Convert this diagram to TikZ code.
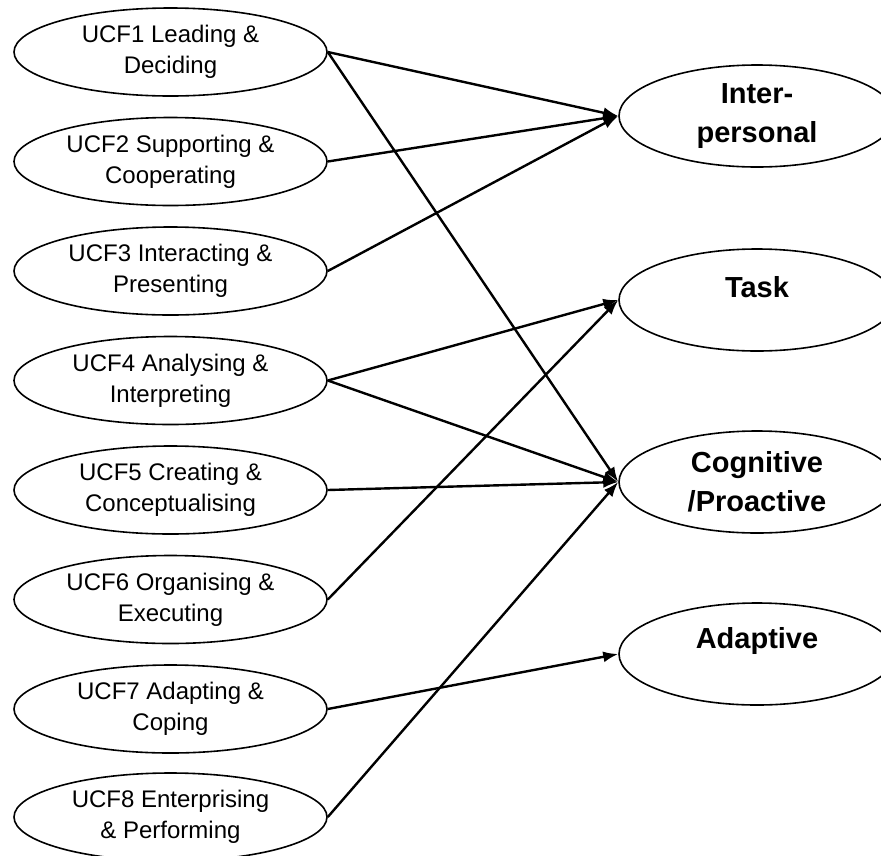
\documentclass[tikz,border=0pt]{standalone}
\usepackage{fontspec}
\setmainfont{Liberation Sans}
\usetikzlibrary{shapes.geometric,arrows.meta}
\begin{document}
\begin{tikzpicture}[x=1pt,y=-1pt,
 lbox/.style={draw,ellipse,line width=1.6pt,minimum width=313pt,minimum height=88pt,inner sep=0pt,inner ysep=-4pt,align=center,font=\fontsize{24}{31}\selectfont},
 rbox/.style={draw,ellipse,line width=1.6pt,minimum width=276pt,minimum height=102pt,inner sep=0pt,inner ysep=-10pt,align=center,font=\fontsize{29}{39}\selectfont\bfseries},
 rlab/.style={font=\fontsize{29}{39}\selectfont\bfseries,yshift=13pt},
 link/.style={line width=2.4pt,-{Latex[length=15pt,width=11pt]}}]
\useasboundingbox (0,0) rectangle (881,855);
\begin{scope}
\clip (0,0) rectangle (881,855);
\node[lbox] (u1) at (170.5,52) {UCF1 Leading \&\\Deciding};
\node[lbox] (u2) at (170.5,161.5) {UCF2 Supporting \&\\Cooperating};
\node[lbox] (u3) at (170.5,271) {UCF3 Interacting \&\\Presenting};
\node[lbox] (u4) at (170.5,380.5) {UCF4 Analysing \&\\Interpreting};
\node[lbox] (u5) at (170.5,490) {UCF5 Creating \&\\Conceptualising};
\node[lbox] (u6) at (170.5,599.5) {UCF6 Organising \&\\Executing};
\node[lbox] (u7) at (170.5,709) {UCF7 Adapting \&\\Coping};
\node[lbox] (u8) at (170.5,817) {UCF8 Enterprising\\\& Performing};
\node[rbox] (ip) at (757,116) {Inter-\\personal};
\node[rbox,label={[rlab]center:Task}] (ta) at (757,300) {};
\node[rbox] (co) at (757,482) {Cognitive\\/Proactive};
\node[rbox,label={[rlab]center:Adaptive}] (ad) at (757,654) {};
\end{scope}
\draw[link] (u1.east) -- (ip.west);
\draw[link] (u2.east) -- (ip.west);
\draw[link] (u3.east) -- (ip.west);
\draw[link] (u1.east) -- (co.west);
\draw[link] (u4.east) -- (ta.west);
\draw[link] (u4.east) -- (co.west);
\draw[link] (u5.east) -- (co.west);
\draw[link] (u6.east) -- (ta.west);
\draw[link] (u7.east) -- (ad.west);
\draw[link] (u8.east) -- (co.west);
\end{tikzpicture}
\end{document}
